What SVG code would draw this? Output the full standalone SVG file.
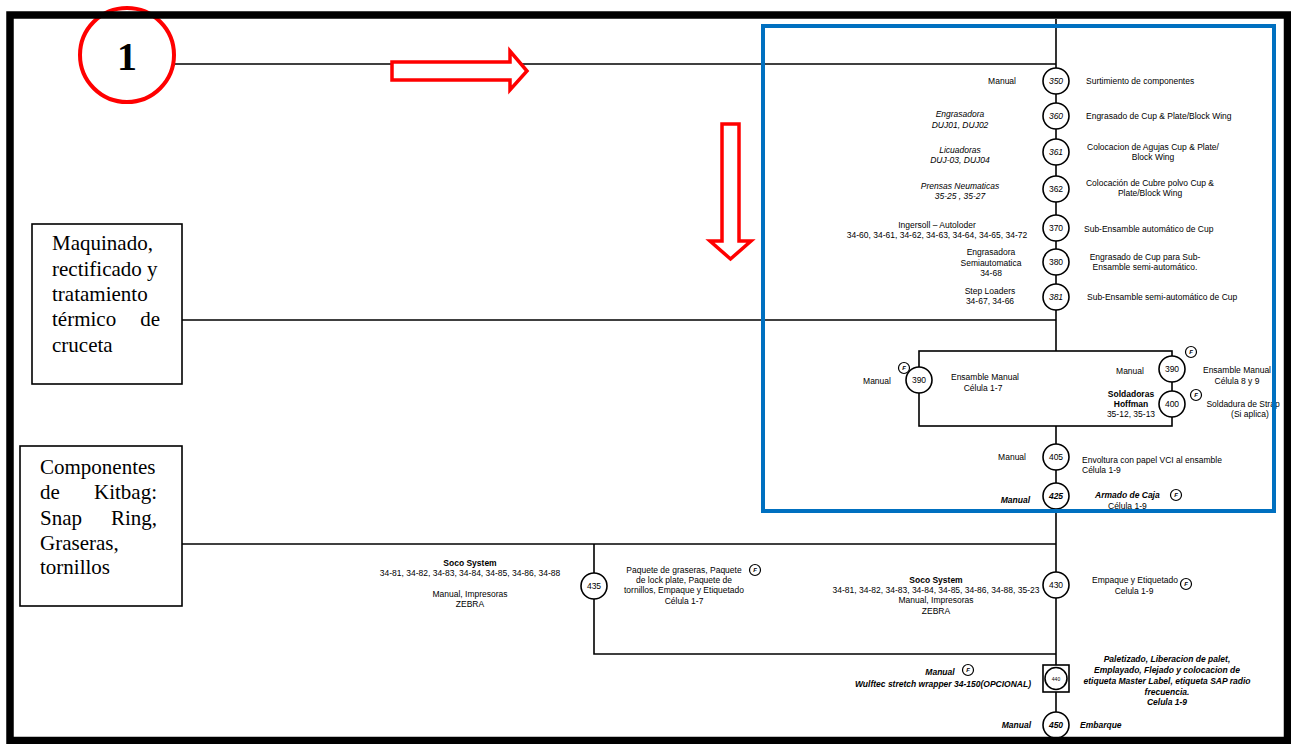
<svg xmlns="http://www.w3.org/2000/svg" width="1291" height="744" viewBox="0 0 1291 744">
  <style>
    .t { font-family: "Liberation Sans", Arial, sans-serif; font-size: 8.5px; fill: #000; }
    .c { text-anchor: middle; }
    .e { text-anchor: end; }
    .i { font-style: italic; }
    .b { font-weight: bold; }
    .serif { font-family: "Liberation Serif", "Times New Roman", serif; font-size: 21px; fill: #000; }
    .ln { stroke: #000; stroke-width: 1.6; fill: none; }
    .op { fill: #fff; stroke: #000; stroke-width: 1.6; }
    .num { font-family: "Liberation Sans", Arial, sans-serif; font-size: 8.5px; text-anchor: middle; fill: #000; }
    .fc { fill: #fff; stroke: #000; stroke-width: 1.2; }
    .ft { font-family: "Liberation Sans", Arial, sans-serif; font-size: 6px; font-weight: bold; font-style: italic; text-anchor: middle; }
    .red { fill: #fff; stroke: #ff0000; stroke-width: 3.5; }
  </style>
  <defs>
    <g id="flag">
      <circle class="fc" r="5.5"/>
      <text class="ft" y="2.2">F</text>
    </g>
  </defs>

  <rect width="1291" height="744" fill="#fff"/>

  <!-- connectors -->
  <g id="connectors">
    <line class="ln" x1="174" y1="64" x2="1056" y2="64"/>
    <line class="ln" x1="1056" y1="19" x2="1056" y2="351"/>
    <line class="ln" x1="182" y1="320" x2="1056" y2="320"/>
    <rect class="ln" x="919" y="351" width="253" height="75"/>
    <line class="ln" x1="1056" y1="426" x2="1056" y2="737"/>
    <line class="ln" x1="182" y1="544" x2="1056" y2="544"/>
    <polyline class="ln" points="594,544 594,654 1056,654"/>
  </g>

  <!-- origin marker -->
  <g id="marker-1">
    <circle cx="127" cy="55" r="47" fill="#fff" stroke="#ff0000" stroke-width="4"/>
    <text x="127" y="70" text-anchor="middle" font-family="Liberation Serif, Times New Roman, serif" font-size="40" font-weight="bold">1</text>
  </g>
  <g id="arrow-right">
    <path class="red" d="M392,62 L510,62 L510,51 L527,71 L510,90 L510,80 L392,80 Z"/>
  </g>
  <g id="arrow-down">
    <path class="red" d="M722,124 L739,124 L739,241 L751,241 L730.5,259 L710,241 L722,241 Z"/>
  </g>

  <!-- input boxes -->
  <g id="box-maquinado">
    <rect x="32" y="224" width="150" height="160" fill="#fff" stroke="#000" stroke-width="1.6"/>
    <text class="serif" x="52" y="250">Maquinado,</text>
    <text class="serif" x="52" y="276">rectificado y</text>
    <text class="serif" x="52" y="301">tratamiento</text>
    <text class="serif" x="52" y="326">térmico</text>
    <text class="serif" x="160" y="326" text-anchor="end">de</text>
    <text class="serif" x="52" y="352">cruceta</text>
  </g>
  <g id="box-kitbag">
    <rect x="20" y="446" width="162" height="160" fill="#fff" stroke="#000" stroke-width="1.6"/>
    <text class="serif" x="40" y="474">Componentes</text>
    <text class="serif" x="40" y="499">de</text>
    <text class="serif" x="157" y="499" text-anchor="end">Kitbag:</text>
    <text class="serif" x="40" y="525">Snap</text>
    <text class="serif" x="157" y="525" text-anchor="end">Ring,</text>
    <text class="serif" x="40" y="550">Graseras,</text>
    <text class="serif" x="40" y="574">tornillos</text>
  </g>

  <!-- operations -->
  <g id="op-350">
    <circle class="op" cx="1056" cy="81" r="13"/>
    <text class="num i" x="1056" y="84">350</text>
    <text class="t e" x="1016" y="84">Manual</text>
    <text class="t" x="1086" y="84">Surtimiento de componentes</text>
  </g>
  <g id="op-360">
    <circle class="op" cx="1056" cy="116" r="13"/>
    <text class="num i" x="1056" y="119">360</text>
    <text class="t c i" x="960" y="117">Engrasadora</text>
    <text class="t c i" x="960" y="128">DUJ01, DUJ02</text>
    <text class="t" x="1086" y="119">Engrasado de Cup &amp; Plate/Block Wing</text>
  </g>
  <g id="op-361">
    <circle class="op" cx="1056" cy="152" r="13"/>
    <text class="num i" x="1056" y="155">361</text>
    <text class="t c i" x="960" y="153">Licuadoras</text>
    <text class="t c i" x="960" y="163">DUJ-03, DUJ04</text>
    <text class="t c" x="1153" y="150">Colocacion de Agujas Cup &amp; Plate/</text>
    <text class="t c" x="1153" y="160">Block Wing</text>
  </g>
  <g id="op-362">
    <circle class="op" cx="1056" cy="189" r="13"/>
    <text class="num" x="1056" y="192">362</text>
    <text class="t c i" x="960" y="189">Prensas Neumaticas</text>
    <text class="t c i" x="960" y="199">35-25 , 35-27</text>
    <text class="t c" x="1150" y="186">Colocación de Cubre polvo  Cup &amp;</text>
    <text class="t c" x="1150" y="196">Plate/Block Wing</text>
  </g>
  <g id="op-370">
    <circle class="op" cx="1056" cy="228" r="13"/>
    <text class="num" x="1056" y="231">370</text>
    <text class="t c" x="937" y="228">Ingersoll – Autoloder</text>
    <text class="t c" x="937" y="238">34-60, 34-61, 34-62, 34-63, 34-64, 34-65, 34-72</text>
    <text class="t" x="1084" y="232">Sub-Ensamble automático de Cup</text>
  </g>
  <g id="op-380">
    <circle class="op" cx="1056" cy="262" r="13"/>
    <text class="num" x="1056" y="265">380</text>
    <text class="t c" x="991" y="255">Engrasadora</text>
    <text class="t c" x="991" y="266">Semiautomatica</text>
    <text class="t c" x="991" y="276">34-68</text>
    <text class="t c" x="1145" y="260">Engrasado de  Cup para  Sub-</text>
    <text class="t c" x="1145" y="270">Ensamble semi-automático.</text>
  </g>
  <g id="op-381">
    <circle class="op" cx="1056" cy="297" r="13"/>
    <text class="num i" x="1056" y="300">381</text>
    <text class="t c" x="990" y="294">Step Loaders</text>
    <text class="t c" x="990" y="304">34-67, 34-66</text>
    <text class="t" x="1087" y="300">Sub-Ensamble semi-automático de Cup</text>
  </g>
  <g id="op-390-a">
    <circle class="op" cx="919" cy="380" r="13"/>
    <text class="num" x="919" y="383">390</text>
    <use href="#flag" x="904" y="368"/>
    <text class="t c" x="877" y="384">Manual</text>
    <text class="t c" x="985" y="380">Ensamble Manual</text>
    <text class="t c" x="983" y="391">Célula 1-7</text>
  </g>
  <g id="op-390-b">
    <circle class="op" cx="1172" cy="369" r="13"/>
    <text class="num" x="1172" y="372">390</text>
    <use href="#flag" x="1191" y="352"/>
    <text class="t c" x="1130" y="374">Manual</text>
    <text class="t c" x="1237" y="373">Ensamble Manual</text>
    <text class="t c" x="1237" y="384">Célula 8 y 9</text>
  </g>
  <g id="op-400">
    <circle class="op" cx="1172" cy="404" r="13"/>
    <text class="num" x="1172" y="407">400</text>
    <use href="#flag" x="1196" y="395"/>
    <text class="t c b" x="1131" y="397">Soldadoras</text>
    <text class="t c b" x="1131" y="407">Hoffman</text>
    <text class="t c" x="1131" y="417">35-12, 35-13</text>
    <text class="t c" x="1243" y="407">Soldadura de Strap</text>
    <text class="t c" x="1250" y="417">(Si aplica)</text>
  </g>
  <g id="op-405">
    <circle class="op" cx="1056" cy="457" r="13"/>
    <text class="num" x="1056" y="460">405</text>
    <text class="t e" x="1026" y="460">Manual</text>
    <text class="t" x="1082" y="463">Envoltura con papel VCI al ensamble</text>
    <text class="t" x="1082" y="473">Célula 1-9</text>
  </g>
  <g id="op-425">
    <circle class="op" cx="1056" cy="496" r="13"/>
    <text class="num i b" x="1056" y="499">425</text>
    <text class="t e i b" x="1030" y="503">Manual</text>
    <text class="t i b" x="1095" y="498">Armado de Caja</text>
    <use href="#flag" x="1176" y="495"/>
    <text class="t" x="1108" y="509">Célula 1-9</text>
  </g>

  <!-- highlighted section -->
  <rect id="section-frame" x="763" y="26" width="511" height="485" fill="none" stroke="#0070C0" stroke-width="4"/>

  <g id="op-435">
    <circle class="op" cx="594" cy="586" r="13"/>
    <text class="num" x="594" y="589">435</text>
    <text class="t c b" x="470" y="566">Soco System</text>
    <text class="t c" x="470" y="576">34-81, 34-82, 34-83, 34-84, 34-85, 34-86, 34-88</text>
    <text class="t c" x="470" y="597">Manual, Impresoras</text>
    <text class="t c" x="470" y="607">ZEBRA</text>
    <text class="t c" x="684" y="573">Paquete de graseras, Paquete</text>
    <text class="t c" x="684" y="583">de lock plate, Paquete de</text>
    <text class="t c" x="684" y="593">tornillos, Empaque  y Etiquetado</text>
    <text class="t c" x="684" y="604">Célula 1-7</text>
    <use href="#flag" x="755" y="570"/>
  </g>
  <g id="op-430">
    <circle class="op" cx="1056" cy="585" r="13"/>
    <text class="num" x="1056" y="588">430</text>
    <text class="t c b" x="936" y="583">Soco System</text>
    <text class="t c" x="936" y="593">34-81, 34-82, 34-83, 34-84, 34-85, 34-86, 34-88, 35-23</text>
    <text class="t c" x="936" y="603">Manual, Impresoras</text>
    <text class="t c" x="936" y="614">ZEBRA</text>
    <text class="t c" x="1135" y="583">Empaque y Etiquetado</text>
    <text class="t c" x="1134" y="594">Celula 1-9</text>
    <use href="#flag" x="1186" y="584"/>
  </g>
  <g id="op-440">
    <rect class="op" x="1043" y="665" width="26" height="27"/>
    <circle class="op" cx="1056" cy="678.5" r="11"/>
    <text x="1056" y="680.5" font-family="Liberation Sans, Arial, sans-serif" font-size="5" text-anchor="middle">440</text>
    <text class="t c i b" x="940" y="675">Manual</text>
    <use href="#flag" x="968" y="670"/>
    <text class="t c i b" x="943" y="687">Wulftec stretch wrapper 34-150(OPCIONAL)</text>
    <text class="t c i b" x="1167" y="662">Paletizado, Liberacion de palet,</text>
    <text class="t c i b" x="1167" y="673">Emplayado, Flejado y colocacion de</text>
    <text class="t c i b" x="1167" y="684">etiqueta Master Label, etiqueta SAP radio</text>
    <text class="t c i b" x="1167" y="695">frecuencia.</text>
    <text class="t c i b" x="1167" y="705">Celula 1-9</text>
  </g>
  <g id="op-450">
    <circle class="op" cx="1056" cy="725" r="13"/>
    <text class="num i b" x="1056" y="728">450</text>
    <text class="t e i b" x="1031" y="728">Manual</text>
    <text class="t i b" x="1080" y="728">Embarque</text>
  </g>

  <!-- page border -->
  <rect x="10" y="15" width="1277.5" height="725.5" fill="none" stroke="#000" stroke-width="7.5"/>
</svg>
